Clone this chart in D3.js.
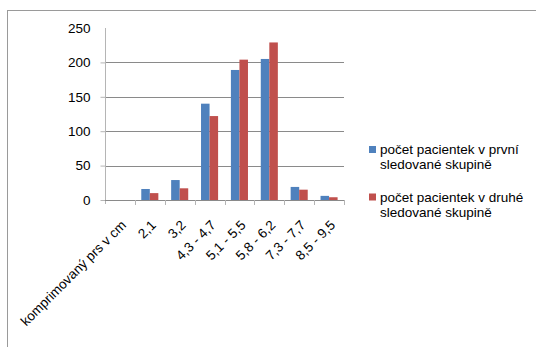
<!DOCTYPE html>
<html>
<head>
<meta charset="utf-8">
<script src="https://cdn.jsdelivr.net/npm/d3@7"></script>
<style>
  html, body { margin: 0; padding: 0; background: #fff; }
  svg { display: block; font-family: "Liberation Sans", Arial, sans-serif; }
</style>
</head>
<body>
<svg id="chart" width="536" height="347"></svg>
<script>
// Category labels along the x axis (first slot is the axis caption itself)
const categories = ["komprimovaný prs v cm", "2,1", "3,2", "4,3 - 4,7", "5,1 - 5,5", "5,8 - 6,2", "7,3 - 7,7", "8,5 - 9,5"];
// Patient counts per group
const firstGroup = [null, 16, 29, 140, 189, 205, 19, 6];
const secondGroup = [null, 10, 17, 122, 204, 229, 15, 4];
const seriesNames = [
  ["počet pacientek v první", "sledované skupině"],
  ["počet pacientek v druhé", "sledované skupině"]
];
const seriesColors = ["#4F81BD", "#C0504D"];
const yTicks = [0, 50, 100, 150, 200, 250];

const svg = d3.select("#chart");
const fontSize = 13.5;

// Outer chart border (extends past the right and bottom edges)
svg.append("rect")
  .attr("x", 7.5).attr("y", 10.5)
  .attr("width", 600).attr("height", 400)
  .attr("fill", "none").attr("stroke", "#9a9a9a").attr("stroke-width", 1);

const plot = { left: 105, right: 344, top: 28, bottom: 200 };

const x0 = d3.scaleBand().domain(categories).range([plot.left, plot.right]).paddingInner(0).paddingOuter(0);
const x1 = d3.scaleBand().domain([0, 1]).range([0, x0.bandwidth()]).paddingInner(0).paddingOuter(0.75);
const y = d3.scaleLinear().domain([0, 250]).range([plot.bottom, plot.top]);

// Horizontal gridlines (none at the top value)
svg.append("g").selectAll("line")
  .data(yTicks.filter(t => t > 0 && t < 250))
  .join("line")
  .attr("x1", plot.left).attr("x2", plot.right)
  .attr("y1", d => Math.round(y(d)) + 0.5).attr("y2", d => Math.round(y(d)) + 0.5)
  .attr("stroke", "#8a8a8a").attr("stroke-width", 1);

// Bars
const series = [firstGroup, secondGroup];
series.forEach((vals, si) => {
  svg.append("g").selectAll("rect")
    .data(categories.map((c, i) => ({ c, v: vals[i] })).filter(d => d.v != null))
    .join("rect")
    .attr("x", d => x0(d.c) + x1(si))
    .attr("y", d => y(d.v))
    .attr("width", x1.bandwidth())
    .attr("height", d => y(0) - y(d.v))
    .attr("fill", seriesColors[si]);
});

// Y axis
const yAxis = d3.axisLeft(y).tickValues(yTicks).tickSize(5).tickPadding(10);
const gy = svg.append("g").attr("transform", `translate(${plot.left + 0.5},0)`).call(yAxis);
gy.select(".domain").attr("stroke", "#b5b5b5").attr("d", `M0,${plot.top}V${plot.bottom + 4}`);
gy.selectAll(".tick line").attr("stroke", "#b5b5b5").filter(d => d === 250).remove();
gy.selectAll(".tick text").attr("font-size", fontSize).attr("fill", "#000")
  .attr("font-family", "Liberation Sans, Arial, sans-serif");

// X axis baseline with category boundary ticks
const gx = svg.append("g");
gx.append("line")
  .attr("x1", plot.left).attr("x2", plot.right)
  .attr("y1", plot.bottom + 0.5).attr("y2", plot.bottom + 0.5)
  .attr("stroke", "#8a8a8a");
gx.selectAll("line.tk")
  .data(categories)
  .join("line").attr("class", "tk")
  .attr("x1", d => Math.round(x0(d) + x0.bandwidth()) + 0.5)
  .attr("x2", d => Math.round(x0(d) + x0.bandwidth()) + 0.5)
  .attr("y1", plot.bottom).attr("y2", plot.bottom + 5)
  .attr("stroke", "#b5b5b5");

// Rotated category labels
gx.selectAll("text")
  .data(categories)
  .join("text")
  .attr("transform", d => `translate(${x0(d) + x0.bandwidth() / 2 + 7},${plot.bottom + 26}) rotate(-45)`)
  .attr("text-anchor", "end")
  .attr("font-size", fontSize)
  .attr("fill", "#000")
  .text(d => d);

// Legend
const legend = svg.append("g");
const legendRows = [{ top: 146, color: seriesColors[0], lines: seriesNames[0] },
                    { top: 193.5, color: seriesColors[1], lines: seriesNames[1] }];
legendRows.forEach(r => {
  legend.append("rect").attr("x", 369).attr("y", r.top).attr("width", 7).attr("height", 7).attr("fill", r.color);
  const t = legend.append("text").attr("x", 380).attr("y", r.top + 8).attr("font-size", fontSize).attr("fill", "#000");
  r.lines.forEach((ln, i) => {
    t.append("tspan").attr("x", 380).attr("dy", i === 0 ? 0 : 15).text(ln);
  });
});
</script>
</body>
</html>
